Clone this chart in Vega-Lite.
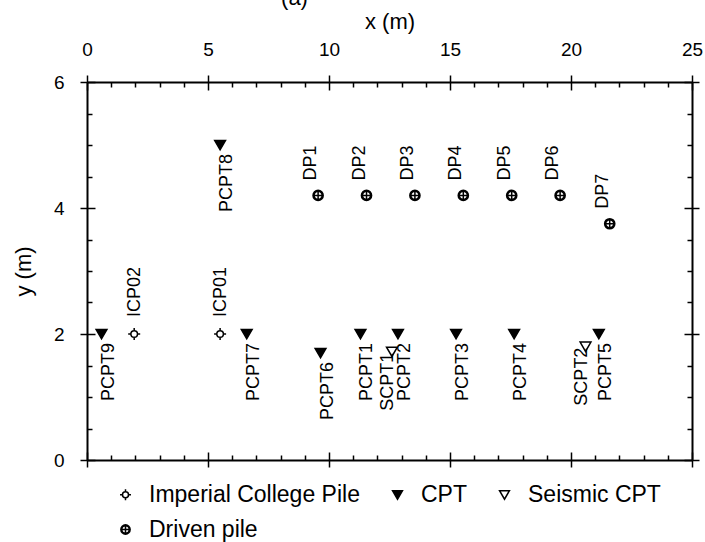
{
  "$schema": "https://vega.github.io/schema/vega-lite/v6.json",
  "width": 605,
  "height": 378,
  "autosize": {"type": "none"},
  "padding": {"left": 87, "top": 82, "right": 13, "bottom": 82},
  "title": {"text": "(a)", "fontSize": 22, "font": "Liberation Sans", "fontWeight": "normal", "color": "black", "anchor": "middle", "dx": -95, "dy": 22, "offset": 0, "baseline": "bottom"},
  "data": {
    "values": [
      {"id": "ICP01", "type": "Imperial College Pile", "x": 5.5, "y": 2.0},
      {"id": "ICP02", "type": "Imperial College Pile", "x": 1.95, "y": 2.0},
      {"id": "PCPT1", "type": "CPT", "x": 11.3, "y": 2.0},
      {"id": "PCPT2", "type": "CPT", "x": 12.85, "y": 2.0},
      {"id": "PCPT3", "type": "CPT", "x": 15.25, "y": 2.0},
      {"id": "PCPT4", "type": "CPT", "x": 17.65, "y": 2.0},
      {"id": "PCPT5", "type": "CPT", "x": 21.15, "y": 2.0},
      {"id": "PCPT6", "type": "CPT", "x": 9.65, "y": 1.7},
      {"id": "PCPT7", "type": "CPT", "x": 6.6, "y": 2.0},
      {"id": "PCPT8", "type": "CPT", "x": 5.5, "y": 5.0},
      {"id": "PCPT9", "type": "CPT", "x": 0.6, "y": 2.0},
      {"id": "SCPT1", "type": "Seismic CPT", "x": 12.6, "y": 1.72},
      {"id": "SCPT2", "type": "Seismic CPT", "x": 20.6, "y": 1.8},
      {"id": "DP1", "type": "Driven pile", "x": 9.55, "y": 4.2},
      {"id": "DP2", "type": "Driven pile", "x": 11.55, "y": 4.2},
      {"id": "DP3", "type": "Driven pile", "x": 13.55, "y": 4.2},
      {"id": "DP4", "type": "Driven pile", "x": 15.55, "y": 4.2},
      {"id": "DP5", "type": "Driven pile", "x": 17.55, "y": 4.2},
      {"id": "DP6", "type": "Driven pile", "x": 19.55, "y": 4.2},
      {"id": "DP7", "type": "Driven pile", "x": 21.6, "y": 3.75}
    ]
  },
  "config": {
    "view": {"stroke": null},
    "font": "Liberation Sans",
    "axis": {
      "grid": false,
      "domainColor": "black",
      "tickColor": "black",
      "labelColor": "black",
      "titleColor": "black",
      "labelFont": "Liberation Sans",
      "titleFont": "Liberation Sans",
      "domainWidth": 2,
      "tickWidth": 1.5,
      "labelFontSize": 19,
      "titleFontSize": 22,
      "titleFontWeight": "normal",
      "labelFlush": false,
      "labelOverlap": false,
      "labelBound": false
    },
    "legend": {
      "title": null,
      "orient": "none",
      "legendX": 27,
      "legendY": 401,
      "direction": "horizontal",
      "columns": 3,
      "labelFontSize": 23,
      "labelFont": "Liberation Sans",
      "labelColor": "black",
      "symbolSize": 120,
      "symbolStrokeWidth": 1.5,
      "symbolOpacity": 1,
      "labelOffset": 12,
      "columnPadding": 26,
      "rowPadding": 11,
      "labelLimit": 400,
      "padding": 0
    }
  },
  "resolve": {"axis": {"x": "independent", "y": "independent"}},
  "layer": [
    {
      "mark": {"type": "point", "size": 144, "filled": true, "strokeWidth": 1.5, "opacity": 1},
      "encoding": {
        "x": {"field": "x", "type": "quantitative", "scale": {"domain": [0, 25], "nice": false, "zero": false},
          "axis": {"orient": "top", "values": [0, 5, 10, 15, 20, 25], "tickSize": 7, "labelPadding": 16, "title": "x (m)", "titlePadding": 7}},
        "y": {"field": "y", "type": "quantitative", "scale": {"domain": [0, 6], "nice": false, "zero": false},
          "axis": {"orient": "left", "values": [0, 2, 4, 6], "tickSize": 7, "labelPadding": 16, "title": "y (m)", "titlePadding": 18}},
        "shape": {"field": "type", "type": "nominal",
          "scale": {"domain": ["Imperial College Pile", "CPT", "Seismic CPT", "Driven pile"],
            "range": [
              "M-0.55,0A0.55,0.55,0,1,1,0.55,0A0.55,0.55,0,1,1,-0.55,0ZM-1,0L-0.55,0M0.55,0L1,0M0,-1L0,-0.55M0,0.55L0,1",
              "M-0.9,-0.75L0.9,-0.75L0,0.8Z",
              "M-0.9,-0.75L0.9,-0.75L0,0.8Z",
              "M-0.85,0A0.85,0.85,0,1,1,0.85,0A0.85,0.85,0,1,1,-0.85,0ZM-0.68,0A0.68,0.68,0,1,1,0.68,0A0.68,0.68,0,1,1,-0.68,0ZM-0.85,0L0.85,0M0,-0.85L0,0.85"
            ]}},
        "fill": {"field": "type", "type": "nominal",
          "scale": {"domain": ["Imperial College Pile", "CPT", "Seismic CPT", "Driven pile"], "range": ["white", "black", "white", "white"]}},
        "stroke": {"field": "type", "type": "nominal",
          "scale": {"domain": ["Imperial College Pile", "CPT", "Seismic CPT", "Driven pile"], "range": ["black", "black", "black", "black"]}}
      }
    },
    {
      "transform": [{"filter": "datum.type === 'CPT'"}],
      "mark": {"type": "text", "angle": -90, "align": "right", "baseline": "middle", "dx": -9, "dy": 7, "fontSize": 18, "font": "Liberation Sans", "fill": "black"},
      "encoding": {
        "x": {"field": "x", "type": "quantitative", "scale": {"domain": [0, 25], "nice": false, "zero": false},
          "axis": {"orient": "top", "values": [0,1,2,3,4,5,6,7,8,9,10,11,12,13,14,15,16,17,18,19,20,21,22,23,24,25], "tickSize": {"condition": {"test": "datum.value % 5 === 0", "value": -8}, "value": -5}, "domain": false, "labels": false, "title": null}},
        "y": {"field": "y", "type": "quantitative", "scale": {"domain": [0, 6], "nice": false, "zero": false},
          "axis": {"orient": "left", "values": [0,0.5,1,1.5,2,2.5,3,3.5,4,4.5,5,5.5,6], "tickSize": {"condition": {"test": "datum.value % 2 === 0", "value": -8}, "value": -5}, "domain": false, "labels": false, "title": null}},
        "text": {"field": "id"}
      }
    },
    {
      "transform": [{"filter": "datum.type === 'Seismic CPT'"}],
      "mark": {"type": "text", "angle": -90, "align": "right", "baseline": "middle", "dx": -1, "dy": -4, "fontSize": 18, "font": "Liberation Sans", "fill": "black"},
      "encoding": {
        "x": {"field": "x", "type": "quantitative", "scale": {"domain": [0, 25], "nice": false, "zero": false},
          "axis": {"orient": "bottom", "values": [0, 5, 10, 15, 20, 25], "tickSize": 7, "labels": false, "title": null}},
        "y": {"field": "y", "type": "quantitative", "scale": {"domain": [0, 6], "nice": false, "zero": false},
          "axis": {"orient": "right", "values": [0, 2, 4, 6], "tickSize": 7, "labels": false, "title": null}},
        "text": {"field": "id"}
      }
    },
    {
      "transform": [{"filter": "datum.type === 'Driven pile'"}],
      "mark": {"type": "text", "angle": -90, "align": "left", "baseline": "middle", "dx": 15, "dy": -7, "fontSize": 18, "font": "Liberation Sans", "fill": "black"},
      "encoding": {
        "x": {"field": "x", "type": "quantitative", "scale": {"domain": [0, 25], "nice": false, "zero": false},
          "axis": {"orient": "bottom", "values": [0,1,2,3,4,5,6,7,8,9,10,11,12,13,14,15,16,17,18,19,20,21,22,23,24,25], "tickSize": {"condition": {"test": "datum.value % 5 === 0", "value": -8}, "value": -5}, "domain": false, "labels": false, "title": null}},
        "y": {"field": "y", "type": "quantitative", "scale": {"domain": [0, 6], "nice": false, "zero": false},
          "axis": {"orient": "right", "values": [0,0.5,1,1.5,2,2.5,3,3.5,4,4.5,5,5.5,6], "tickSize": {"condition": {"test": "datum.value % 2 === 0", "value": -8}, "value": -5}, "domain": false, "labels": false, "title": null}},
        "text": {"field": "id"}
      }
    },
    {
      "transform": [{"filter": "datum.type === 'Imperial College Pile'"}],
      "mark": {"type": "text", "angle": -90, "align": "left", "baseline": "middle", "dx": 17, "dy": 1, "fontSize": 18, "font": "Liberation Sans", "fill": "black"},
      "encoding": {
        "x": {"field": "x", "type": "quantitative", "scale": {"domain": [0, 25], "nice": false, "zero": false}, "axis": null},
        "y": {"field": "y", "type": "quantitative", "scale": {"domain": [0, 6], "nice": false, "zero": false}, "axis": null},
        "text": {"field": "id"}
      }
    }
  ]
}
